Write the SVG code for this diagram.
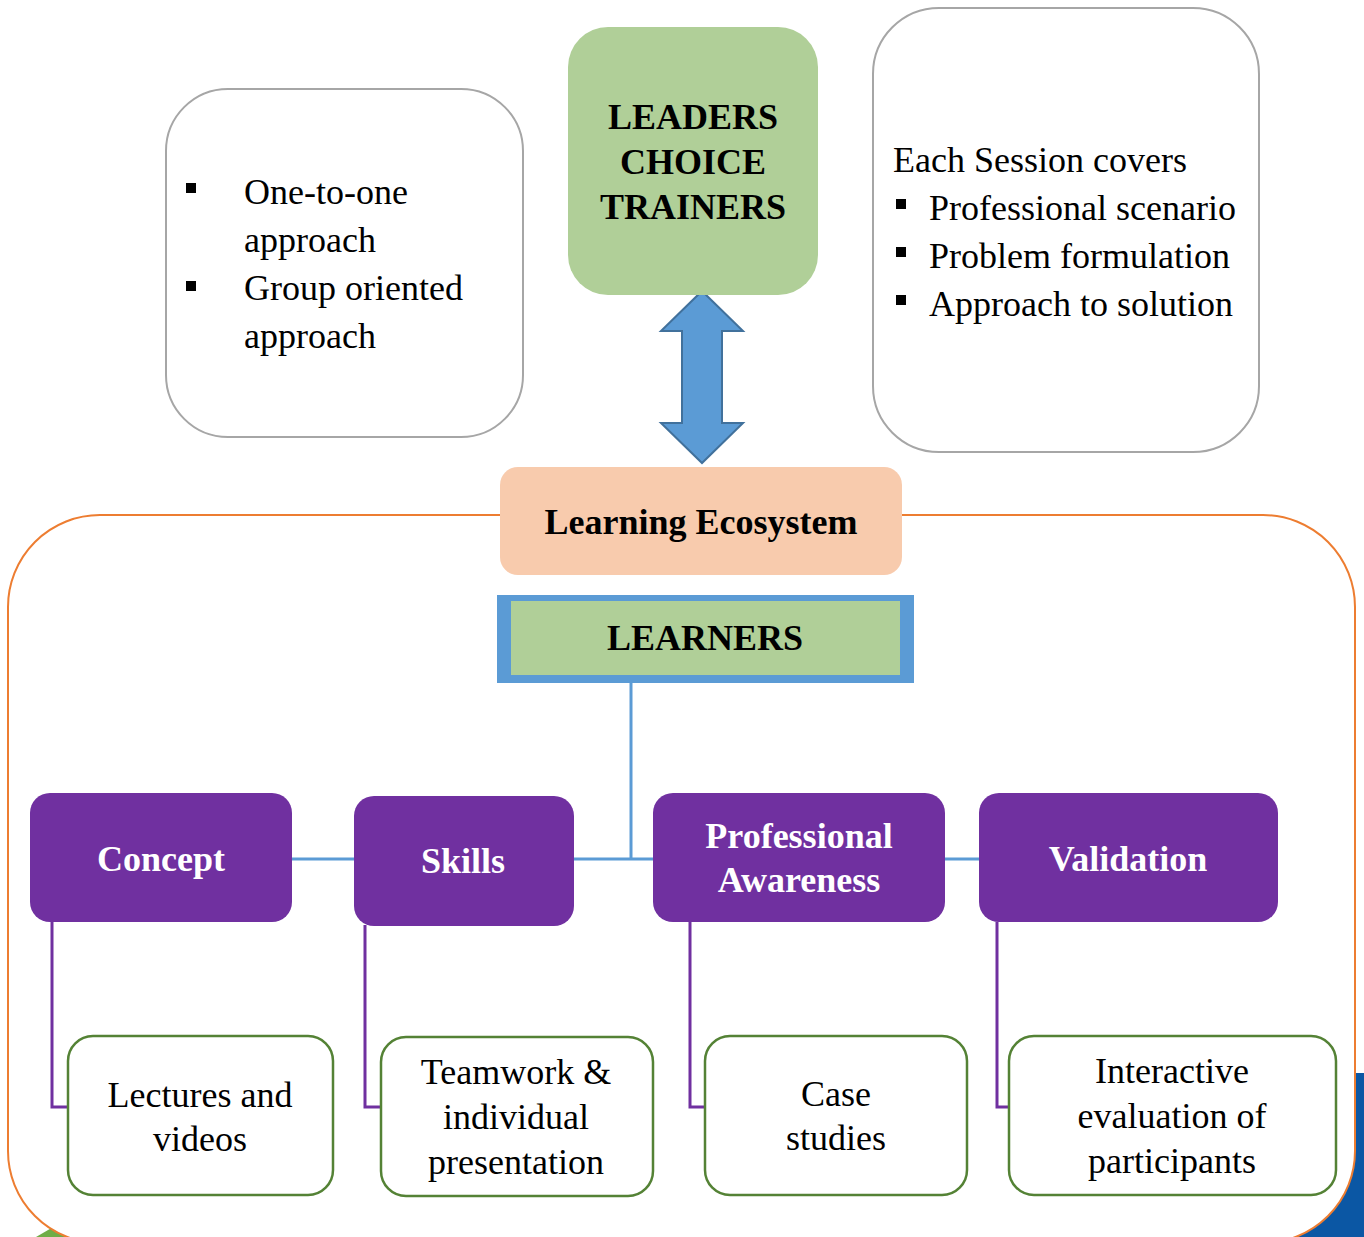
<svg xmlns="http://www.w3.org/2000/svg" width="1364" height="1237" viewBox="0 0 1364 1237">
<style>
  .t { font-family: "Liberation Serif", "Times New Roman", serif; font-size: 36px; fill: #000; }
  .b { font-weight: bold; }
  .w { fill: #fff; font-weight: bold; }
  .c { text-anchor: middle; }
  .note { fill: #fff; stroke: #a6a6a6; stroke-width: 2; }
  .purple { fill: #7030a0; }
  .leaf { fill: #fff; stroke: #548235; stroke-width: 2.5; }
  .blue-line { stroke: #5b9bd5; stroke-width: 3; fill: none; }
  .purple-line { stroke: #7030a0; stroke-width: 3; fill: none; }
</style>

<!-- background fragments -->
<rect x="1292" y="1073" width="120" height="200" rx="22" fill="#0b57a4"/>
<polygon points="36,1237 55,1226 70,1237" fill="#70ad47"/>

<!-- container -->
<g id="container">
  <rect x="8" y="515" width="1347" height="728" rx="92" fill="#fff" stroke="#ed7d31" stroke-width="2"/>
</g>

<!-- connectors -->
<g id="connectors">
  <polyline class="blue-line" points="631,683 631,859"/>
  <polyline class="blue-line" points="291,859 980,859"/>
  <polyline class="purple-line" points="52,922 52,1107 69,1107"/>
  <polyline class="purple-line" points="365,925 365,1107 382,1107"/>
  <polyline class="purple-line" points="690,922 690,1107 706,1107"/>
  <polyline class="purple-line" points="997,922 997,1107 1010,1107"/>
  <polygon points="702,291 743,331 722,331 722,423 743,423 702,463 661,423 682,423 682,331 661,331" fill="#5b9bd5" stroke="#41719c" stroke-width="2"/>
</g>

<g id="approaches">
  <rect class="note" x="166" y="89" width="357" height="348" rx="62"/>
  <rect x="186" y="183" width="10" height="10" fill="#000"/>
  <rect x="186" y="281" width="10" height="10" fill="#000"/>
  <text class="t" x="244" y="204">One-to-one</text>
  <text class="t" x="244" y="252">approach</text>
  <text class="t" x="244" y="300">Group oriented</text>
  <text class="t" x="244" y="348">approach</text>
</g>

<g id="trainers">
  <rect x="568" y="27" width="250" height="268" rx="40" fill="#b0cf98"/>
  <text class="t b c" x="693" y="129">LEADERS</text>
  <text class="t b c" x="693" y="174">CHOICE</text>
  <text class="t b c" x="693" y="219">TRAINERS</text>
</g>

<g id="session">
  <rect class="note" x="873" y="8" width="386" height="444" rx="66"/>
  <text class="t" x="893" y="172">Each Session covers</text>
  <rect x="896" y="199" width="10" height="10" fill="#000"/>
  <rect x="896" y="247" width="10" height="10" fill="#000"/>
  <rect x="896" y="295" width="10" height="10" fill="#000"/>
  <text class="t" x="929" y="220">Professional scenario</text>
  <text class="t" x="929" y="268">Problem formulation</text>
  <text class="t" x="929" y="316">Approach to solution</text>
</g>

<g id="ecosystem">
  <rect x="500" y="467" width="402" height="108" rx="18" fill="#f8cbad"/>
  <text class="t b c" x="701" y="534">Learning Ecosystem</text>
</g>

<g id="learners">
  <rect x="497" y="595" width="417" height="88" fill="#5b9bd5"/>
  <rect x="511" y="601" width="389" height="74" fill="#b0cf98"/>
  <text class="t b c" x="705" y="650">LEARNERS</text>
</g>

<g id="concept">
  <rect class="purple" x="30" y="793" width="262" height="129" rx="20"/>
  <text class="t w c" x="161" y="871">Concept</text>
</g>
<g id="skills">
  <rect class="purple" x="354" y="796" width="220" height="130" rx="20"/>
  <text class="t w c" x="463" y="873">Skills</text>
</g>
<g id="professional">
  <rect class="purple" x="653" y="793" width="292" height="129" rx="20"/>
  <text class="t w c" x="799" y="848">Professional</text>
  <text class="t w c" x="799" y="892">Awareness</text>
</g>
<g id="validation">
  <rect class="purple" x="979" y="793" width="299" height="129" rx="20"/>
  <text class="t w c" x="1128" y="871">Validation</text>
</g>

<g id="lectures">
  <rect class="leaf" x="68" y="1036" width="265" height="159" rx="25"/>
  <text class="t c" x="200" y="1107">Lectures and</text>
  <text class="t c" x="200" y="1151">videos</text>
</g>
<g id="teamwork">
  <rect class="leaf" x="381" y="1037" width="272" height="159" rx="25"/>
  <text class="t c" x="516" y="1084">Teamwork &amp;</text>
  <text class="t c" x="516" y="1129">individual</text>
  <text class="t c" x="516" y="1174">presentation</text>
</g>
<g id="case">
  <rect class="leaf" x="705" y="1036" width="262" height="159" rx="25"/>
  <text class="t c" x="836" y="1106">Case</text>
  <text class="t c" x="836" y="1150">studies</text>
</g>
<g id="interactive">
  <rect class="leaf" x="1009" y="1036" width="327" height="159" rx="25"/>
  <text class="t c" x="1172" y="1083">Interactive</text>
  <text class="t c" x="1172" y="1128">evaluation of</text>
  <text class="t c" x="1172" y="1173">participants</text>
</g>
</svg>
